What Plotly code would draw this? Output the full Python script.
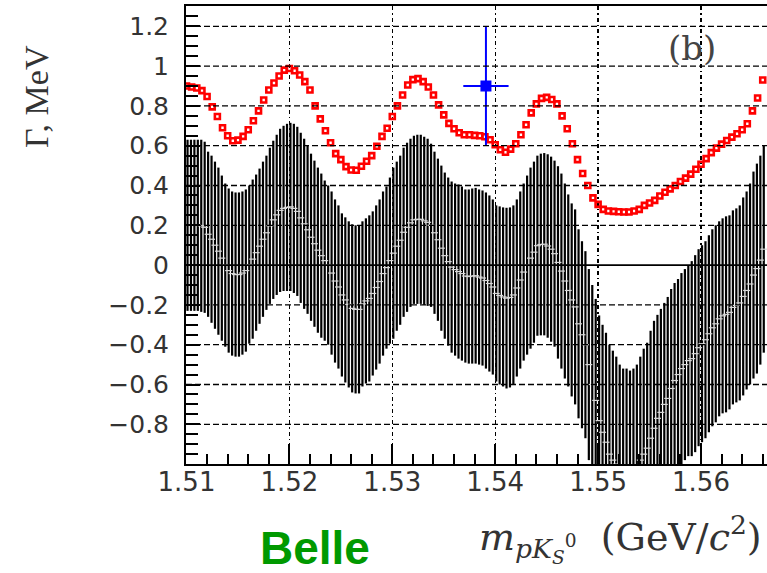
import numpy as np
import plotly.graph_objects as go

# ---------------- data ----------------
# black band: upper and lower edges of each vertical error bar (bins of 1/3 MeV starting at 1.5101 GeV)
band_upper = [
    .63, .63, .63, .63, .63, .62, .57, .55, .52, .49, .45, .41,
    .385, .37, .365, .365, .37, .38, .40, .43, .455, .485, .52, .55,
    .59, .625, .655, .685, .70, .71, .715, .71, .695, .665, .635, .60,
    .56, .525, .49, .46, .425, .40, .37, .33, .30, .26, .24, .22,
    .205, .20, .20, .22, .235, .25, .27, .30, .33, .37, .395, .44,
    .49, .52, .55, .59, .615, .635, .65, .655, .655, .645, .635, .61,
    .57, .535, .50, .465, .44, .42, .41, .405, .395, .38, .38, .385,
    .388, .38, .375, .365, .35, .33, .30, .295, .29, .288, .29, .30,
    .33, .37, .41, .45, .49, .52, .55, .56, .563, .557, .545, .525,
    .497, .46, .41, .355, .31, .28, .18, .12, .07, -.02, -.10, -.17,
    -.253, -.30, -.34, -.40, -.43, -.46, -.50, -.52, -.52, -.53, -.52, -.50,
    -.46, -.42, -.39, -.33, -.28, -.25, -.22, -.19, -.16, -.12, -.09, -.07,
    -.04, -.02, .00, .02, .05, .08, .10, .12, .15, .18, .20, .22,
    .235, .245, .25, .275, .285, .30, .34, .37, .41, .47, .51, .55,
    .60,
]
band_lower = [
    -.23, -.23, -.23, -.23, -.235, -.24, -.26, -.29, -.32, -.35, -.38, -.41,
    -.44, -.455, -.46, -.46, -.45, -.435, -.395, -.37, -.33, -.295, -.26, -.225,
    -.195, -.17, -.15, -.135, -.13, -.13, -.13, -.14, -.155, -.19, -.22, -.245,
    -.28, -.31, -.34, -.365, -.38, -.40, -.45, -.49, -.52, -.56, -.59, -.615,
    -.64, -.645, -.645, -.61, -.595, -.585, -.555, -.525, -.495, -.455, -.42, -.395,
    -.37, -.33, -.30, -.26, -.235, -.21, -.195, -.195, -.195, -.20, -.205, -.21,
    -.245, -.28, -.33, -.37, -.405, -.44, -.455, -.47, -.48, -.49, -.495, -.495,
    -.495, -.50, -.505, -.52, -.535, -.55, -.585, -.60, -.61, -.62, -.615, -.60,
    -.56, -.52, -.48, -.45, -.42, -.39, -.355, -.353, -.353, -.365, -.385, -.41,
    -.47, -.52, -.57, -.61, -.66, -.70, -.77, -.82, -.87, -.98, -1.10, -1.19,
    -1.31, -1.38, -1.44, -1.50, -1.53, -1.54, -1.54, -1.56, -1.58, -1.57, -1.56, -1.52,
    -1.50, -1.48, -1.45, -1.41, -1.36, -1.29, -1.26, -1.21, -1.18, -1.12, -1.07, -1.03,
    -1.00, -.98, -.96, -.96, -.94, -.91, -.89, -.87, -.84, -.81, -.79, -.76,
    -.745, -.74, -.725, -.70, -.69, -.68, -.655, -.625, -.60, -.57, -.545, -.50,
    -.44,
]
band_start = 1.5101      # GeV, first bin
band_step = 1.0 / 3000   # GeV

# red curve, one point every 0.5 MeV from 1.510 GeV
red_start = 1.5100
red_step = 0.0005
red_width = [
    .90, .895, .89, .877, .847, .795, .747, .69, .65, .625,
    .628, .647, .68, .725, .775, .83, .88, .915, .95, .98,
    .988, .977, .955, .922, .88, .80, .735, .675, .615, .56,
    .53, .495, .478, .477, .497, .522, .55, .597, .647, .688,
    .747, .80, .855, .905, .932, .937, .922, .895, .855, .805,
    .755, .712, .685, .665, .655, .655, .652, .65, .645, .63,
    .605, .58, .567, .583, .61, .655, .705, .765, .81, .838,
    .843, .832, .81, .75, .685, .61, .53, .46, .40, .338,
    .305, .28, .272, .27, .268, .267, .267, .272, .28, .30,
    .312, .325, .347, .366, .383, .40, .42, .437, .457, .482,
    .507, .535, .565, .588, .608, .626, .643, .66, .68, .71,
    .775, .84, .93,
]

# blue measurement
blue_mass = [1.5391]
blue_width = [0.90]
blue_err_width = [0.30]
blue_err_mass = [0.0022]

# axis ticks
x_ticks = [1.51, 1.52, 1.53, 1.54, 1.55, 1.56]
x_ticklabels = ["1.51", "1.52", "1.53", "1.54", "1.55", "1.56"]
y_ticks = [-0.8, -0.6, -0.4, -0.2, 0, 0.2, 0.4, 0.6, 0.8, 1.0, 1.2]
y_ticklabels = ["\u22120.8", "\u22120.6", "\u22120.4", "\u22120.2", "0",
                "0.2", "0.4", "0.6", "0.8", "1", "1.2"]

# ---------------- derived ----------------
up = np.array(band_upper)
lo = np.array(band_lower)
band_x = band_start + np.arange(len(up)) * band_step
band_c = (up + lo) / 2
band_e = (up - lo) / 2
red_x = red_start + np.arange(len(red_width)) * red_step

# ---------------- figure ----------------
W, H = 767, 573
ML, MR, MT, MB = 186, 0, 6, 109
PW, PH = W - ML - MR, H - MT - MB
X0 = 1.51 - 0.5 / 10290
X1 = X0 + PW / 10290
Y1 = 1.302
Y0 = Y1 - PH / 199.0


def px(xp):
    return (xp - ML) / PW


def py(yp):
    return (H - MB - yp) / PH


fig = go.Figure()

fig.add_trace(go.Scatter(
    x=band_x, y=band_c, mode="markers",
    marker=dict(symbol="line-ew-open", size=5, color="#d8d8d8",
                line=dict(color="#d8d8d8", width=1.2)),
    error_y=dict(type="data", array=band_e, color="black",
                 thickness=2.2, width=0),
    showlegend=False, hoverinfo="skip",
))

fig.add_trace(go.Scatter(
    x=red_x, y=red_width, mode="markers",
    marker=dict(symbol="square-open", size=5, color="#ff0000",
                line=dict(color="#ff0000", width=2.6)),
    showlegend=False,
))

fig.add_trace(go.Scatter(
    x=blue_mass, y=blue_width, mode="markers",
    marker=dict(symbol="square", size=11, color="#0000ff"),
    error_y=dict(type="data", array=blue_err_width, color="#0000ff",
                 thickness=2, width=0),
    error_x=dict(type="data", array=blue_err_mass, color="#0000ff",
                 thickness=2, width=0),
    showlegend=False,
))

# horizontal dashed grid drawn over the data (as in the original)
shapes = []
for yv in y_ticks:
    if yv == 0:
        continue
    shapes.append(dict(type="line", xref="paper", x0=0, x1=1, yref="y", y0=yv, y1=yv,
                       line=dict(color="black", width=1.3, dash="6px,3px"),
                       layer="above"))
shapes.append(dict(type="line", xref="paper", x0=0, x1=1, yref="y", y0=0, y1=0,
                   line=dict(color="black", width=1.6), layer="above"))

tickfont = dict(family="DejaVu Sans", size=25, color="#333333")

fig.update_layout(
    width=W, height=H,
    margin=dict(l=ML, r=MR, t=MT, b=MB, pad=0),
    paper_bgcolor="white", plot_bgcolor="white",
    shapes=shapes,
    xaxis=dict(
        range=[X0, X1], tickvals=x_ticks, ticktext=x_ticklabels,
        ticks="inside", ticklen=20, tickwidth=2, tickcolor="black",
        minor=dict(dtick=0.002, tick0=1.51, ticks="inside", ticklen=10,
                   tickwidth=2, tickcolor="black", showgrid=False),
        showgrid=True, gridcolor="black", gridwidth=1.3, griddash="4px,3px,1.5px,3px",
        showline=True, linecolor="black", linewidth=2, mirror=True,
        zeroline=False, tickfont=dict(family="DejaVu Sans", size=26, color="#333333"),
        ticklabelstandoff=-6,
    ),
    yaxis=dict(
        range=[Y0, Y1], tickvals=y_ticks, ticktext=y_ticklabels,
        ticks="inside", ticklen=14, tickwidth=2, tickcolor="black",
        minor=dict(dtick=0.05, tick0=0, ticks="inside", ticklen=12,
                   tickwidth=2, tickcolor="black", showgrid=False),
        showgrid=False,
        showline=True, linecolor="black", linewidth=2, mirror=False,
        zeroline=False,
        tickfont=tickfont, ticklabelstandoff=10,
    ),
    annotations=[
        dict(text="(b)", x=px(692), y=py(48), xref="paper", yref="paper",
             xanchor="center", yanchor="middle", showarrow=False,
             font=dict(family="DejaVu Serif", size=34, color="#444444")),
        dict(text="\u0393, MeV", x=px(37), y=py(97), xref="paper", yref="paper",
             xanchor="center", yanchor="middle", textangle=-90, showarrow=False,
             font=dict(family="Liberation Serif", size=34, color="#333333")),
        dict(text="<i>m</i><sub><i>pK</i><sub><i>S</i></sub><sup>0</sup></sub>  (GeV/<i>c</i><sup>2</sup>)",
             x=px(764), y=py(538), xref="paper", yref="paper",
             xanchor="right", yanchor="middle", showarrow=False,
             font=dict(family="DejaVu Serif", size=38, color="#333333")),
        dict(text="<b>Belle</b>", x=px(315), y=py(548), xref="paper", yref="paper",
             xanchor="center", yanchor="middle", showarrow=False,
             font=dict(family="Liberation Sans", size=46, color="#009900")),
    ],
)

fig.write_html("out.html",
               config={"displayModeBar": False, "staticPlot": True},
               post_script="document.body.style.margin='0px';document.body.style.overflow='hidden';")
